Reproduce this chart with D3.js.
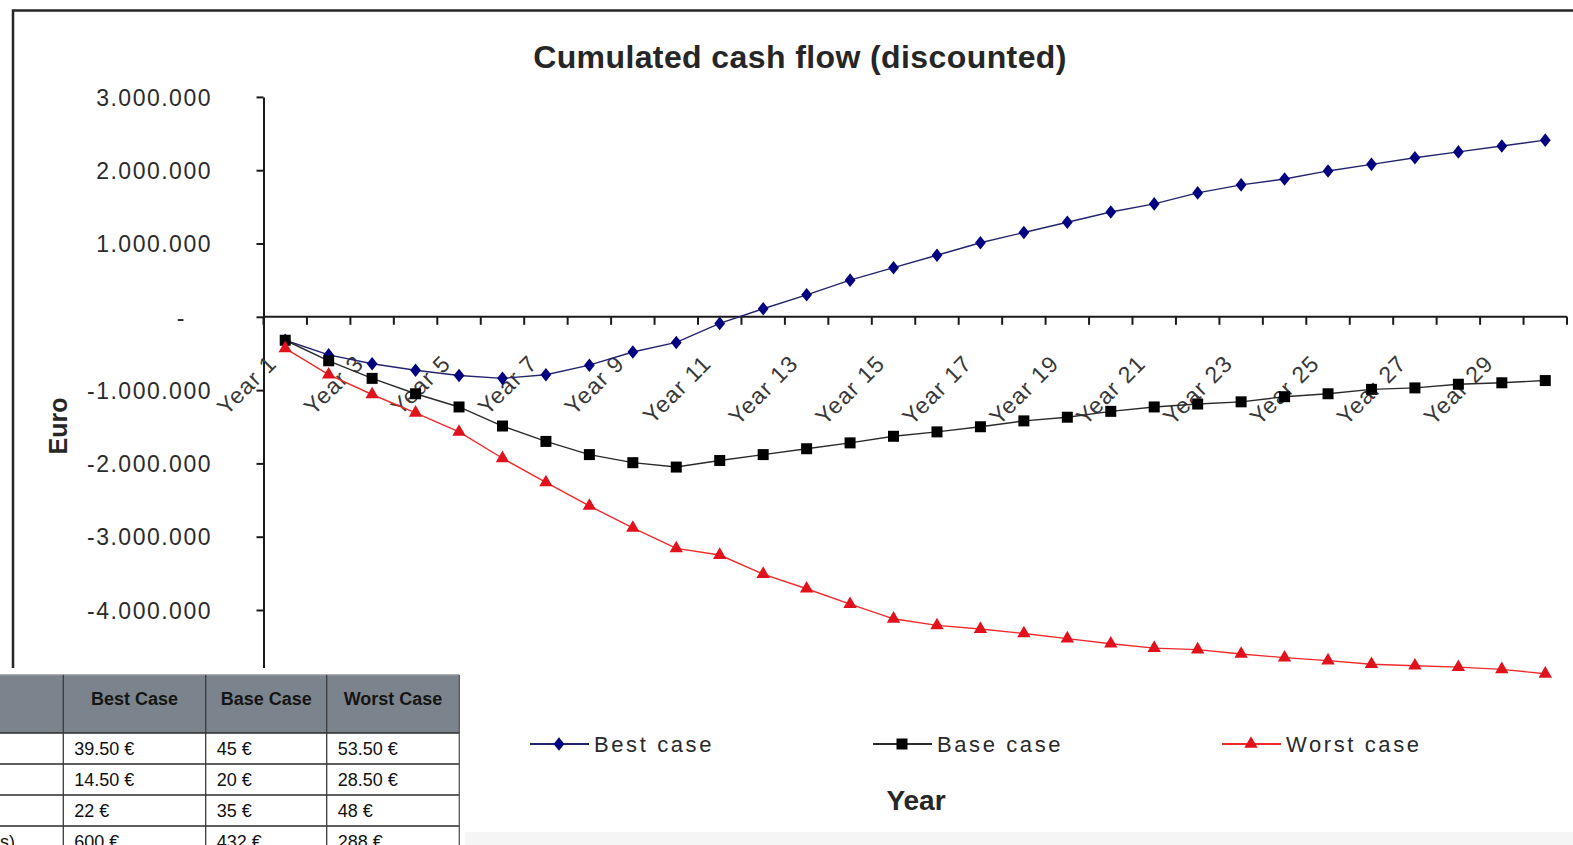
<!DOCTYPE html>
<html>
<head>
<meta charset="utf-8">
<script src="https://cdn.jsdelivr.net/npm/d3@7"></script>
<style>
  html, body { margin: 0; padding: 0; background: #fff; overflow: hidden; }
  svg { display: block; font-family: "Liberation Sans", Arial, sans-serif; }
</style>
</head>
<body>
<svg id="chart" width="1573" height="845"></svg>
<script>
// ---------- data ----------
const years = d3.range(1, 31).map(i => "Year " + i);
const bestCase = [-0.32, -0.52, -0.64, -0.73, -0.80, -0.84, -0.79, -0.66, -0.48, -0.35,
                  -0.09, 0.11, 0.30, 0.50, 0.67, 0.84, 1.01, 1.15, 1.29, 1.43,
                  1.54, 1.69, 1.80, 1.88, 1.99, 2.08, 2.17, 2.25, 2.33, 2.41].map(v => v * 1e6);
const baseCase = [-0.32, -0.60, -0.84, -1.05, -1.23, -1.49, -1.70, -1.88, -1.99, -2.05,
                  -1.96, -1.88, -1.80, -1.72, -1.63, -1.57, -1.50, -1.42, -1.37, -1.29,
                  -1.23, -1.19, -1.16, -1.09, -1.05, -0.99, -0.97, -0.92, -0.90, -0.87].map(v => v * 1e6);
const worstCase = [-0.43, -0.79, -1.06, -1.31, -1.57, -1.93, -2.26, -2.58, -2.88, -3.16,
                   -3.25, -3.51, -3.71, -3.92, -4.12, -4.21, -4.26, -4.32, -4.39, -4.46,
                   -4.52, -4.54, -4.60, -4.65, -4.69, -4.74, -4.76, -4.78, -4.81, -4.87].map(v => v * 1e6);
const seriesNames = ["Best case", "Base case", "Worst case"];
const yTicks = [-4e6, -3e6, -2e6, -1e6, 0, 1e6, 2e6, 3e6];

const tableHeader = ["", "Best Case", "Base Case", "Worst Case"];
const tableRows = [
  ["", "39.50 €", "45 €", "53.50 €"],
  ["", "14.50 €", "20 €", "28.50 €"],
  ["", "22 €", "35 €", "48 €"],
  ["s)", "600 €", "432 €", "288 €"]
];

// ---------- setup ----------
const svg = d3.select("#chart");
const FONT = '"Liberation Sans", Arial, sans-serif';

svg.append("rect").attr("width", 1573).attr("height", 845).attr("fill", "#fff");

// chart frame (cropped screenshot of Excel chart)
svg.append("path")
  .attr("d", "M13,668 L13,10.5 L1580,10.5")
  .attr("fill", "none").attr("stroke", "#262626").attr("stroke-width", 2.5);

const x = d3.scaleBand().domain(years).range([263.5, 1567]);
const y = d3.scaleLinear().domain([-5e6, 3e6]).range([683.3, 96.9]);

// title
svg.append("text")
  .attr("x", 800).attr("y", 68)
  .attr("text-anchor", "middle")
  .attr("font-size", 32).attr("font-weight", "bold")
  .attr("letter-spacing", 0.4)
  .attr("fill", "#262626")
  .text("Cumulated cash flow (discounted)");

// y axis
const fmt = d3.formatLocale({ decimal: ",", thousands: ".", grouping: [3], currency: ["", "€"], minus: "-" }).format(",.0f");
const yAxis = d3.axisLeft(y)
  .tickValues(yTicks)
  .tickSize(7)
  .tickSizeOuter(0)
  .tickPadding(44.5)
  .tickFormat(d => d === 0 ? "-" : fmt(d));
const gy = svg.append("g").attr("transform", "translate(263.5,0)").call(yAxis);
gy.select(".domain").attr("stroke", "#1a1a1a").attr("stroke-width", 2);
gy.selectAll(".tick line").attr("stroke", "#1a1a1a").attr("stroke-width", 2);
gy.selectAll(".tick text")
  .attr("font-family", FONT).attr("font-size", 23)
  .attr("letter-spacing", 1.5)
  .attr("fill", "#2b2b2b")
  .attr("dy", "0.36em")
  .attr("dx", d => d === 0 ? -26 : 0);

// Euro label
svg.append("text")
  .attr("transform", "translate(67,426) rotate(-90)")
  .attr("text-anchor", "middle")
  .attr("font-size", 25).attr("font-weight", "bold")
  .attr("fill", "#262626")
  .text("Euro");

// x axis line at zero
const y0 = y(0);
const gx = svg.append("g");
gx.append("line")
  .attr("x1", x.range()[0]).attr("x2", x.range()[1])
  .attr("y1", y0).attr("y2", y0)
  .attr("stroke", "#1a1a1a").attr("stroke-width", 2);
const boundaries = years.map(d => x(d)).concat([x(years[years.length - 1]) + x.bandwidth()]);
gx.selectAll("line.tk").data(boundaries).join("line")
  .attr("class", "tk")
  .attr("x1", d => d).attr("x2", d => d)
  .attr("y1", y0).attr("y2", y0 + 8)
  .attr("stroke", "#1a1a1a").attr("stroke-width", 2);

// rotated category labels (every other year)
gx.selectAll("text.xl").data(years.filter((d, i) => i % 2 === 0)).join("text")
  .attr("class", "xl")
  .attr("transform", d => `translate(${x(d) + x.bandwidth() / 2 - 7},${y0 + 48}) rotate(-45)`)
  .attr("text-anchor", "end")
  .attr("font-size", 23)
  .attr("letter-spacing", 1.2)
  .attr("fill", "#383838")
  .text(d => d);

// series
const series = [
  { name: seriesNames[0], values: bestCase, color: "#000080", line: "#24246e", sym: d3.symbolDiamond, size: 0 },
  { name: seriesNames[1], values: baseCase, color: "#000000", line: "#2a2a2a", sym: d3.symbolSquare, size: 121 },
  { name: seriesNames[2], values: worstCase, color: "#e2121c", line: "#f02a2a", sym: d3.symbolTriangle, size: 78 }
];
const line = d3.line().x((d, i) => x(years[i]) + x.bandwidth() / 2).y(d => y(d));
const diamondPath = () => {
  const w = 5.4, h = 6.8;
  return `M0,${-h}L${w},0L0,${h}L${-w},0Z`;
};
const markerPath = s => s.sym === d3.symbolDiamond ? diamondPath() : d3.symbol(s.sym, s.size)();
series.forEach(s => {
  svg.append("path").datum(s.values)
    .attr("d", line)
    .attr("fill", "none").attr("stroke", s.line).attr("stroke-width", 1.4);
  svg.append("g").selectAll("path").data(s.values).join("path")
    .attr("transform", (d, i) => `translate(${x(years[i]) + x.bandwidth() / 2},${y(d)})`)
    .attr("d", markerPath(s))
    .attr("fill", s.color);
});

// legend
const legendItems = [
  { s: series[0], x: 530 },
  { s: series[1], x: 873 },
  { s: series[2], x: 1222 }
];
const lg = svg.append("g");
legendItems.forEach(it => {
  const ly = 744;
  lg.append("line").attr("x1", it.x).attr("x2", it.x + 59).attr("y1", ly).attr("y2", ly)
    .attr("stroke", it.s.line).attr("stroke-width", 2);
  lg.append("path")
    .attr("transform", `translate(${it.x + 29},${ly})`)
    .attr("d", markerPath(it.s))
    .attr("fill", it.s.color);
  lg.append("text")
    .attr("x", it.x + 64).attr("y", ly + 8)
    .attr("font-size", 22).attr("letter-spacing", 2.6)
    .attr("fill", "#2a2a2a")
    .text(it.s.name);
});

// x axis title
svg.append("text")
  .attr("x", 916).attr("y", 810)
  .attr("text-anchor", "middle")
  .attr("font-size", 28).attr("font-weight", "bold")
  .attr("fill", "#262626")
  .text("Year");

// bottom-right faint band
svg.append("rect").attr("x", 465).attr("y", 832).attr("width", 1110).attr("height", 13).attr("fill", "#f5f5f5");

// ---------- overlapping table ----------
const tb = svg.append("g");
tb.append("rect").attr("x", 0).attr("y", 668).attr("width", 464).attr("height", 177).attr("fill", "#fff");
const colX = [-20, 63.3, 205.7, 326.7, 459.3];
const rowY = [675, 733, 764, 795, 826, 857];
tb.append("rect").attr("x", 0).attr("y", rowY[0]).attr("width", colX[4]).attr("height", rowY[1] - rowY[0])
  .attr("fill", "#7b848c");
// header text
tableHeader.forEach((h, i) => {
  if (!h) return;
  tb.append("text")
    .attr("x", (colX[i] + colX[i + 1]) / 2).attr("y", 705)
    .attr("text-anchor", "middle")
    .attr("font-size", 18).attr("font-weight", "bold")
    .attr("fill", "#151515")
    .text(h);
});
// body text
tableRows.forEach((r, ri) => {
  r.forEach((c, ci) => {
    if (!c) return;
    const t = tb.append("text")
      .attr("y", rowY[ri + 1] + 21.5)
      .attr("font-size", 18)
      .attr("fill", "#111")
      .text(c);
    if (ci === 0) t.attr("x", 15).attr("text-anchor", "end");
    else t.attr("x", colX[ci] + 11);
  });
});
// grid lines
[1, 2, 3, 4].forEach(k => {
  tb.append("line").attr("x1", 0).attr("x2", colX[4]).attr("y1", rowY[k]).attr("y2", rowY[k])
    .attr("stroke", "#2a2a2a").attr("stroke-width", 1.3);
});
tb.append("line").attr("x1", 0).attr("x2", colX[4]).attr("y1", rowY[0]).attr("y2", rowY[0])
  .attr("stroke", "#8f959a").attr("stroke-width", 1.3);
[1, 2, 3, 4].forEach(k => {
  tb.append("line").attr("x1", colX[k]).attr("x2", colX[k]).attr("y1", rowY[0]).attr("y2", 845)
    .attr("stroke", k === 4 ? "#555" : "#3a3a3a").attr("stroke-width", 1.3);
});
</script>
</body>
</html>
